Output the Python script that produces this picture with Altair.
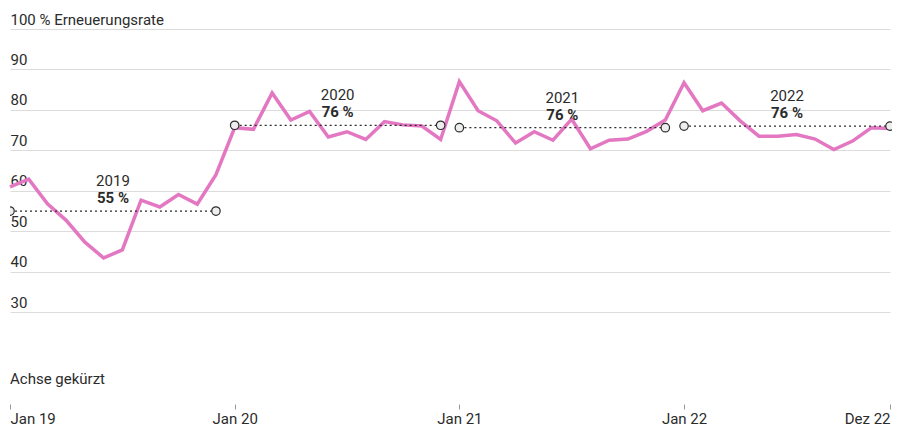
import altair as alt
import pandas as pd

# ---- data ----
month_index = list(range(48))
renewal_rate = [61.0, 62.9, 56.8, 52.7, 47.3, 43.4, 45.4, 57.7, 56.0, 59.1, 56.7, 64.0,
                75.6, 75.2, 84.2, 77.5, 79.6, 73.3, 74.6, 72.7, 77.1, 76.3, 76.0, 72.7,
                87.0, 79.8, 77.3, 71.8, 74.6, 72.5, 77.7, 70.4, 72.5, 72.8, 74.7, 77.5,
                86.7, 79.8, 81.7, 77.3, 73.5, 73.5, 73.9, 72.8, 70.2, 72.3, 75.6, 75.4]
years = ["2019", "2020", "2021", "2022"]
year_start = [0, 12, 24, 36]
year_end = [11, 23, 35, 47]
year_avg = [55.0, 76.2, 75.6, 76.0]
avg_label = ["55 %", "76 %", "76 %", "76 %"]
x_tick_values = [0, 12, 24, 36, 47]
x_tick_labels = ["Jan 19", "Jan 20", "Jan 21", "Jan 22", "Dez 22"]
y_grid_values = [30, 40, 50, 60, 70, 80, 90, 100]
y_top_label = "100 % Erneuerungsrate"
axis_note = "Achse gekürzt"

# ---- tables ----
line_df = pd.DataFrame({"m": month_index, "rate": renewal_rate})
avg_df = pd.DataFrame({"year": years, "start": year_start, "end": year_end,
                       "avg": year_avg, "label": avg_label,
                       "mid": [s + 5.5 for s in year_start]})
pts = []
for s, e, a in zip(year_start, year_end, year_avg):
    pts.append({"m": s, "avg": a})
    pts.append({"m": e, "avg": a})
pts_df = pd.DataFrame(pts)
first_pt = pts_df.iloc[[0]]
other_pts = pts_df.iloc[1:]

TEXT = "#2b2b2b"
PINK = "#e377c2"

x_scale = alt.Scale(domain=[0, 47], nice=False, zero=False)
y_scale = alt.Scale(domain=[7.3, 100], nice=False, zero=False)

labels_js = "[" + ",".join("'%s'" % l for l in x_tick_labels) + "]"
vals_js = "[" + ",".join(str(v) for v in x_tick_values) + "]"

x_axis = alt.Axis(values=x_tick_values,
                  labelExpr=f"{labels_js}[indexof({vals_js}, datum.value)]",
                  labelFlush=True, grid=False, domain=False,
                  tickColor="#999999", tickSize=5, tickWidth=1,
                  labelPadding=2, labelFontSize=15, labelColor=TEXT, title=None)
y_axis = alt.Axis(values=y_grid_values, grid=True, gridColor="#dcdcdc", gridWidth=1,
                  domain=False, ticks=False, tickSize=0, labelPadding=0,
                  labelAlign="left", labelBaseline="alphabetic", labelOffset=-5,
                  labelFontSize=15, labelColor=TEXT,
                  labelExpr=f"datum.value == 100 ? '{y_top_label}' : datum.label",
                  title=None)


def X(field):
    return alt.X(field, type="quantitative", scale=x_scale, axis=x_axis)


def Y(field):
    return alt.Y(field, type="quantitative", scale=y_scale, axis=y_axis)


line = alt.Chart(line_df).mark_line(color=PINK, strokeWidth=3.5, strokeJoin="miter").encode(
    x=X("m"), y=Y("rate"),
)

rules = alt.Chart(avg_df).mark_rule(color=TEXT, strokeWidth=1.2, strokeDash=[2, 3]).encode(
    x=X("start"), x2="end:Q", y=Y("avg"),
)

pt_style = dict(shape="circle", filled=True, fill="#eeeeee", stroke=TEXT,
                strokeWidth=1.2, size=72, opacity=1)
first_circle = alt.Chart(first_pt).mark_point(clip=True, **pt_style).encode(
    x=X("m"), y=Y("avg"),
)
other_circles = alt.Chart(other_pts).mark_point(**pt_style).encode(
    x=X("m"), y=Y("avg"),
)

year_text = alt.Chart(avg_df).mark_text(fontSize=15, color=TEXT, dy=-25,
                                        baseline="alphabetic", align="center").encode(
    x=X("mid"), y=Y("avg"), text="year:N",
)
pct_text = alt.Chart(avg_df).mark_text(fontSize=15, color=TEXT, dy=-8, fontWeight="bold",
                                       baseline="alphabetic", align="center").encode(
    x=X("mid"), y=Y("avg"), text="label:N",
)

note = alt.Chart(pd.DataFrame({"t": [axis_note]})).mark_text(
    fontSize=15, color=TEXT, align="left", baseline="alphabetic").encode(
    x=alt.value(0), y=alt.value(355), text="t:N")

chart = alt.layer(line, rules, first_circle, other_circles, year_text, pct_text, note).properties(
    width=880, height=375,
    autosize=alt.AutoSizeParams(type="none"),
    padding={"left": 2, "top": 21, "right": 2, "bottom": 24},
).configure(font="Roboto").configure_view(stroke=None)

chart.save("out.html", embed_options={"renderer": "svg", "actions": False})
